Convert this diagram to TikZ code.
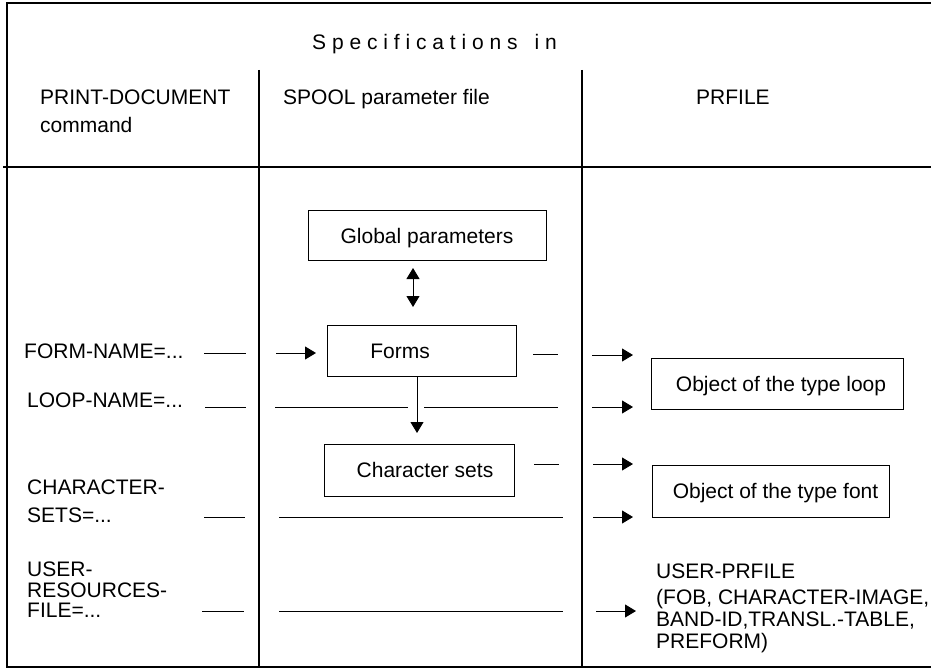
\documentclass[tikz,border=0pt]{standalone}
\usepackage{fontspec}
\setmainfont{Liberation Sans}
\usetikzlibrary{arrows.meta}
\begin{document}
\begin{tikzpicture}[x=1pt,y=-1pt,
  every node/.style={font=\fontsize{21}{28}\selectfont, inner sep=0pt},
  lbl/.style={anchor=base west},
  mlbl/.style={anchor=north west, align=left},
  box/.style={draw, line width=1pt, text height=15pt, text depth=0pt},
  frame/.style={line width=1.2pt},
  conn/.style={line width=1pt},
  arr/.style={conn, -{Triangle[length=11pt,width=13pt]}},
  darr/.style={conn, {Triangle[length=11pt,width=13pt]}-{Triangle[length=11pt,width=13pt]}}]
\useasboundingbox (0,0) rectangle (931,668);

% table frame and column rules
\draw[frame] (931,3) -- (7,3) -- (7,667) -- (931,667);
\draw[frame] (3,167) -- (931,167);
\draw[frame] (259,70) -- (259,667);
\draw[frame] (582,70) -- (582,667);

% headings
\node[lbl] (spec) at (312,50) {S p e c i f i c a t i o n s\hspace{17pt}i n};
\node[mlbl] (cmdhead) at (40,90) {PRINT-DOCUMENT\\command};
\node[lbl] (spoolhead) at (283,105) {SPOOL parameter file};
\node[lbl] (prfhead) at (696,105) {PRFILE};

% boxes in the SPOOL parameter file column
\node[box, minimum width=238pt, minimum height=50pt] (glob) at (427,236) {Global parameters};
\node[box, minimum width=189pt, minimum height=51pt] (forms) at (421.5,350.5) {Forms\hspace*{43pt}};
\node[box, minimum width=190pt, minimum height=52pt] (chars) at (419,470) {\hspace*{12pt}Character sets};

% boxes in the PRFILE column
\node[box, minimum width=252pt, minimum height=51pt] (loopobj) at (777,383.5) {\hspace*{8pt}Object of the type loop};
\node[box, minimum width=237pt, minimum height=52pt] (fontobj) at (770.5,491) {\hspace*{10pt}Object of the type font};
\node[mlbl, font=\fontsize{21}{22}\selectfont] (userprf) at (656,564) {USER-PRFILE\\[4pt](FOB, CHARACTER-IMAGE,\\BAND-ID,TRANSL.-TABLE,\\PREFORM)};

% operands of the PRINT-DOCUMENT command
\node[lbl] (formname) at (24,358) {FORM-NAME=...};
\node[lbl] (loopname) at (27,407) {LOOP-NAME=...};
\node[mlbl] (charsets) at (27,480) {CHARACTER-\\SETS=...};
\node[mlbl, font=\fontsize{21}{20.5}\selectfont] (userres) at (27,562) {USER-\\RESOURCES-\\FILE=...};

% global parameters <-> forms
\coordinate (gp1) at (413,268);
\coordinate (gp2) at (413,307);
\draw[darr] (gp1) -- (gp2);

% FORM-NAME row
\coordinate (f1) at (204,353); \coordinate (f2) at (246,353);
\coordinate (f3) at (276,353); \coordinate (f4) at (316,353);
\coordinate (f5) at (533,354); \coordinate (f6) at (558,354);
\coordinate (f7) at (592,355); \coordinate (f8) at (633,355);
\draw[conn] (f1) -- (f2);
\draw[arr] (f3) -- (f4);
\draw[conn] (f5) -- (f6);
\draw[arr] (f7) -- (f8);

% LOOP-NAME row and forms -> character sets
\coordinate (l1) at (205,407); \coordinate (l2) at (246,407);
\coordinate (l3) at (275,407); \coordinate (l4) at (408,407);
\coordinate (l5) at (424,407); \coordinate (l6) at (558,407);
\coordinate (l7) at (592,407); \coordinate (l8) at (633,407);
\coordinate (down) at (417,433);
\draw[conn] (l1) -- (l2);
\draw[conn] (l3) -- (l4);
\draw[conn] (l5) -- (l6);
\draw[arr] (l7) -- (l8);
\draw[arr] (forms.south -| down) -- (down);

% character sets row
\coordinate (c1) at (534,464); \coordinate (c2) at (559,464);
\coordinate (c3) at (593,464); \coordinate (c4) at (633,464);
\draw[conn] (c1) -- (c2);
\draw[arr] (c3) -- (c4);

% CHARACTER-SETS row
\coordinate (s1) at (204,517); \coordinate (s2) at (245,517);
\coordinate (s3) at (279,517); \coordinate (s4) at (563,517);
\coordinate (s5) at (593,517); \coordinate (s6) at (633,517);
\draw[conn] (s1) -- (s2);
\draw[conn] (s3) -- (s4);
\draw[arr] (s5) -- (s6);

% USER-RESOURCES-FILE row
\coordinate (u1) at (202,611); \coordinate (u2) at (244,611);
\coordinate (u3) at (279,611); \coordinate (u4) at (563,611);
\coordinate (u5) at (596,611); \coordinate (u6) at (636,611);
\draw[conn] (u1) -- (u2);
\draw[conn] (u3) -- (u4);
\draw[arr] (u5) -- (u6);
\end{tikzpicture}
\end{document}
